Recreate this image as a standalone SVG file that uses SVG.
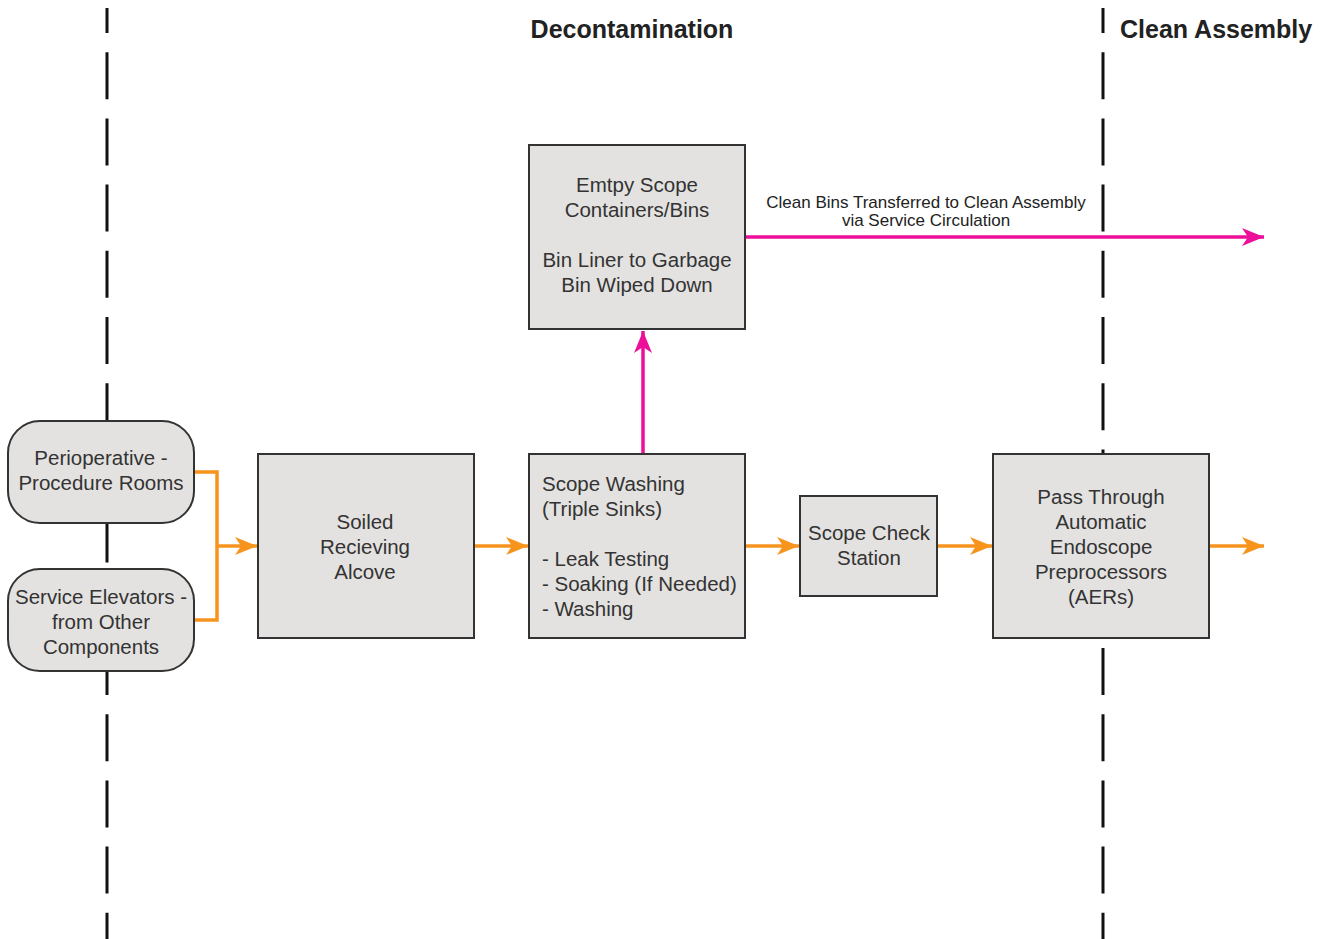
<svg xmlns="http://www.w3.org/2000/svg" width="1332" height="939" viewBox="0 0 1332 939">
  <style>
    .zone { stroke: #111; stroke-width: 3; stroke-dasharray: 47 19.2; stroke-dashoffset: 22; fill: none; }
    .title { font-family: "Liberation Sans", Arial, sans-serif; font-weight: bold; font-size: 25px; fill: #222; }
    .box { fill: #e3e2e0; stroke: #333; stroke-width: 2; }
    .txt { font-family: "Liberation Sans", Arial, sans-serif; font-size: 20.5px; fill: #333; }
    .mid { text-anchor: middle; }
    .note { font-family: "Liberation Sans", Arial, sans-serif; font-size: 17px; fill: #222; text-anchor: middle; }
    .flow { stroke: #f7941d; stroke-width: 3.5; fill: none; }
    .bin { stroke: #ec0f9a; stroke-width: 3.5; fill: none; }
  </style>
  <defs>
    <marker id="arrowOrange" markerUnits="userSpaceOnUse" markerWidth="24" markerHeight="20" refX="22" refY="9" orient="auto">
      <path d="M0,0 L22,9 L0,18 L6,9 z" fill="#f7941d"/>
    </marker>
    <marker id="arrowPink" markerUnits="userSpaceOnUse" markerWidth="24" markerHeight="20" refX="22" refY="9" orient="auto">
      <path d="M0,0 L22,9 L0,18 L6,9 z" fill="#ec0f9a"/>
    </marker>
  </defs>

  <rect width="1332" height="939" fill="#ffffff"/>

  <!-- zone boundaries -->
  <g id="zones">
    <line class="zone" x1="107" y1="8" x2="107" y2="939"/>
    <line class="zone" x1="1103" y1="8" x2="1103" y2="939"/>
    <text class="title mid" x="632" y="38">Decontamination</text>
    <text class="title" x="1120" y="38">Clean Assembly</text>
  </g>

  <!-- connectors -->
  <g id="connectors">
    <polyline class="flow" points="194,472 217,472 217,620 194,620"/>
    <line class="flow" x1="217" y1="546" x2="257" y2="546" marker-end="url(#arrowOrange)"/>
    <line class="flow" x1="474" y1="546" x2="528" y2="546" marker-end="url(#arrowOrange)"/>
    <line class="flow" x1="745" y1="546" x2="799" y2="546" marker-end="url(#arrowOrange)"/>
    <line class="flow" x1="937" y1="546" x2="992" y2="546" marker-end="url(#arrowOrange)"/>
    <line class="flow" x1="1209" y1="546" x2="1264" y2="546" marker-end="url(#arrowOrange)"/>
    <line class="bin" x1="643" y1="454" x2="643" y2="331" marker-end="url(#arrowPink)"/>
    <line class="bin" x1="745" y1="237" x2="1264" y2="237" marker-end="url(#arrowPink)"/>
    <text class="note" x="926" y="208">Clean Bins Transferred to Clean Assembly</text>
    <text class="note" x="926" y="226">via Service Circulation</text>
  </g>

  <g id="perioperative">
    <rect class="box" x="8" y="421" width="186" height="102" rx="32" ry="32"/>
    <text class="txt mid" x="101" y="465">Perioperative -</text>
    <text class="txt mid" x="101" y="490">Procedure Rooms</text>
  </g>

  <g id="service-elevators">
    <rect class="box" x="8" y="569" width="186" height="102" rx="32" ry="32"/>
    <text class="txt mid" x="101" y="604">Service Elevators -</text>
    <text class="txt mid" x="101" y="629">from Other</text>
    <text class="txt mid" x="101" y="654">Components</text>
  </g>

  <g id="soiled-receiving">
    <rect class="box" x="258" y="454" width="216" height="184"/>
    <text class="txt mid" x="365" y="529">Soiled</text>
    <text class="txt mid" x="365" y="554">Recieving</text>
    <text class="txt mid" x="365" y="579">Alcove</text>
  </g>

  <g id="scope-washing">
    <rect class="box" x="529" y="454" width="216" height="184"/>
    <text class="txt" x="542" y="491">Scope Washing</text>
    <text class="txt" x="542" y="516">(Triple Sinks)</text>
    <text class="txt" x="542" y="566">- Leak Testing</text>
    <text class="txt" x="542" y="591">- Soaking (If Needed)</text>
    <text class="txt" x="542" y="616">- Washing</text>
  </g>

  <g id="empty-bins">
    <rect class="box" x="529" y="145" width="216" height="184"/>
    <text class="txt mid" x="637" y="192">Emtpy Scope</text>
    <text class="txt mid" x="637" y="217">Containers/Bins</text>
    <text class="txt mid" x="637" y="267">Bin Liner to Garbage</text>
    <text class="txt mid" x="637" y="292">Bin Wiped Down</text>
  </g>

  <g id="scope-check">
    <rect class="box" x="800" y="496" width="137" height="100"/>
    <text class="txt mid" x="869" y="540">Scope Check</text>
    <text class="txt mid" x="869" y="565">Station</text>
  </g>

  <g id="aer">
    <rect class="box" x="993" y="454" width="216" height="184"/>
    <text class="txt mid" x="1101" y="504">Pass Through</text>
    <text class="txt mid" x="1101" y="529">Automatic</text>
    <text class="txt mid" x="1101" y="554">Endoscope</text>
    <text class="txt mid" x="1101" y="579">Preprocessors</text>
    <text class="txt mid" x="1101" y="604">(AERs)</text>
  </g>
</svg>
